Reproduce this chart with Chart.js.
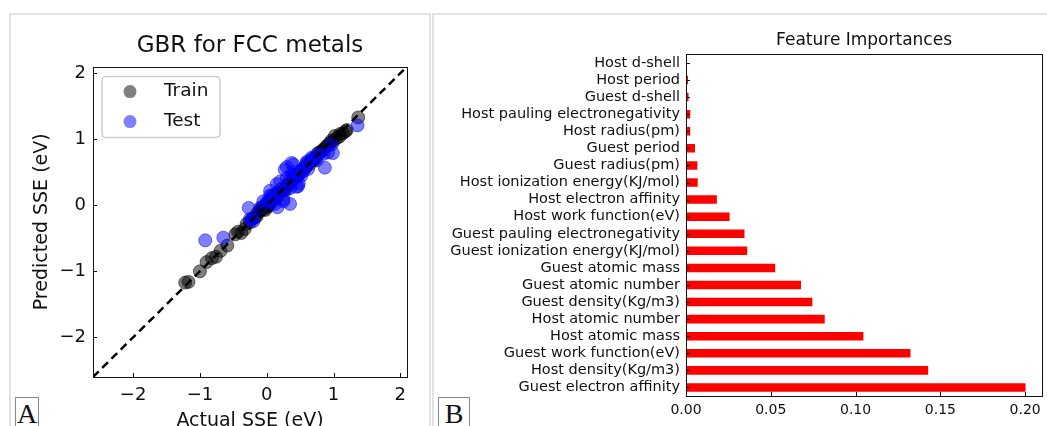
<!DOCTYPE html>
<html>
<head>
<meta charset="utf-8">
<script src="https://cdn.jsdelivr.net/npm/chart.js@4.4.1/dist/chart.umd.min.js"></script>
<style>
  body { margin: 0; background: #fff; width: 1047px; height: 426px; overflow: hidden; position: relative; }
  .panel { position: absolute; border: 2px solid #e2e2e2; box-sizing: border-box; }
  #panelA { left: 9px; top: 13px; width: 422px; height: 430px; }
  #panelB { left: 432px; top: 13px; width: 630px; height: 430px; }
  canvas { position: absolute; }
  #scatterChart { left: 12px; top: 15px; }
  #barChart { left: 436px; top: 15px; }
  .tag { position: absolute; border: 1.5px solid #8a8a8a; font-family: "Liberation Serif", "DejaVu Serif", serif; font-size: 28px; line-height: 32px; text-align: center; color: #111; box-sizing: border-box; background: #fff; }
  #tagA { left: 15px; top: 397px; width: 24px; height: 34px; }
  #tagB { left: 438px; top: 397px; width: 32px; height: 34px; }
</style>
</head>
<body>
<div class="panel" id="panelA"></div>
<div class="panel" id="panelB"></div>
<canvas id="scatterChart" width="416" height="418"></canvas>
<canvas id="barChart" width="611" height="418"></canvas>
<div class="tag" id="tagA">A</div>
<div class="tag" id="tagB">B</div>
<script>
// ---- panel A: actual vs predicted SSE ----
const trainActual = [-1.22, -1.17, -1.0, -0.90, -0.82, -0.76, -0.69, -0.59, -0.47, -0.43, -0.38, -0.33, -0.30, -0.25, -0.22, -0.18, -0.15, -0.14, -0.12, -0.10, -0.08, -0.06, -0.05, -0.02, 0.0, 0.0, 0.02, 0.03, 0.04, 0.05, 0.06, 0.08, 0.10, 0.12, 0.14, 0.15, 0.18, 0.20, 0.22, 0.25, 0.28, 0.30, 0.33, 0.35, 0.38, 0.40, 0.42, 0.45, 0.48, 0.50, 0.53, 0.55, 0.58, 0.60, 0.62, 0.65, 0.68, 0.70, 0.72, 0.75, 0.78, 0.80, 0.83, 0.85, 0.88, 0.90, 0.94, 0.97, 1.00, 1.02, 1.05, 1.09, 1.10, 1.14, 1.18, 1.20, 1.37];
const trainPredicted = [-1.17, -1.16, -1.0, -0.86, -0.80, -0.78, -0.69, -0.61, -0.44, -0.40, -0.42, -0.36, -0.28, -0.26, -0.20, -0.19, -0.17, -0.12, -0.10, -0.08, -0.04, -0.07, -0.02, -0.07, 0.0, -0.03, 0.05, -0.01, 0.02, 0.08, 0.09, 0.05, 0.15, 0.12, 0.10, 0.18, 0.14, 0.20, 0.25, 0.22, 0.25, 0.30, 0.35, 0.33, 0.36, 0.42, 0.45, 0.43, 0.46, 0.50, 0.55, 0.52, 0.57, 0.60, 0.64, 0.63, 0.70, 0.68, 0.70, 0.74, 0.80, 0.80, 0.82, 0.85, 0.87, 0.90, 0.94, 0.98, 0.97, 1.05, 1.02, 1.04, 1.08, 1.09, 1.12, 1.14, 1.33];
const testActual = [-0.92, -0.65, -0.27, -0.25, -0.22, -0.20, -0.10, -0.05, 0.0, 0.05, 0.05, 0.07, 0.10, 0.12, 0.15, 0.16, 0.16, 0.20, 0.25, 0.25, 0.27, 0.28, 0.30, 0.30, 0.35, 0.35, 0.37, 0.37, 0.38, 0.40, 0.40, 0.45, 0.47, 0.48, 0.50, 0.50, 0.52, 0.56, 0.60, 0.60, 0.62, 0.67, 0.70, 0.75, 0.75, 0.87, 0.85, 0.92, 0.97, 0.99, 1.36];
const testPredicted = [-0.53, -0.49, -0.04, -0.21, -0.21, -0.24, -0.04, 0.06, 0.05, 0.15, 0.22, 0.14, 0.10, 0.02, 0.32, 0.19, -0.03, 0.36, 0.09, 0.06, 0.54, 0.22, 0.41, 0.58, 0.26, 0.02, 0.64, 0.44, 0.50, 0.62, 0.46, 0.28, 0.29, 0.33, 0.51, 0.49, 0.45, 0.56, 0.66, 0.64, 0.55, 0.72, 0.71, 0.68, 0.77, 0.57, 0.78, 0.80, 0.92, 0.79, 1.21];
const sseRange = [-2.6, 2.1];
const sseTicks = [-2, -1, 0, 1, 2];

// ---- panel B: feature importances (top to bottom) ----
const featureNames = [
  "Host d-shell", "Host period", "Guest d-shell", "Host pauling electronegativity",
  "Host radius(pm)", "Guest period", "Guest radius(pm)", "Host ionization energy(KJ/mol)",
  "Host electron affinity", "Host work function(eV)", "Guest pauling electronegativity",
  "Guest ionization energy(KJ/mol)", "Guest atomic mass", "Guest atomic number",
  "Guest density(Kg/m3)", "Host atomic number", "Host atomic mass",
  "Guest work function(eV)", "Host density(Kg/m3)", "Guest electron affinity"
];
const featureImportance = [0.0005, 0.0012, 0.0015, 0.0025, 0.0025, 0.0053, 0.0067, 0.0069,
  0.0182, 0.0257, 0.0345, 0.0361, 0.0526, 0.0678, 0.0745, 0.0818, 0.1046, 0.1324, 0.1428, 0.2002];
const importanceTicks = [0, 0.05, 0.1, 0.15, 0.2];

const FONT = '"DejaVu Sans", sans-serif';
const minus = v => (v < 0 ? '\u2212' + Math.abs(v) : String(v));

// box frame + inward ticks, matplotlib style
const framePlugin = {
  id: 'frame',
  afterDraw(chart, args, opts) {
    const { ctx, chartArea: a, scales } = chart;
    const len = opts.tickLen || 4;
    ctx.save();
    ctx.strokeStyle = opts.color || '#000';
    ctx.lineWidth = 1;
    ctx.beginPath();
    scales.x.ticks.forEach((t, i) => {
      const px = Math.round(scales.x.getPixelForTick(i)) + 0.5;
      ctx.moveTo(px, a.bottom);
      ctx.lineTo(px, a.bottom - len);
    });
    scales.y.ticks.forEach((t, i) => {
      const py = Math.round(scales.y.getPixelForTick(i)) + 0.5;
      ctx.moveTo(a.left, py);
      ctx.lineTo(a.left + len, py);
    });
    ctx.stroke();
    ctx.strokeRect(Math.round(a.left) + 0.5, Math.round(a.top) + 0.5,
      Math.round(a.right - a.left), Math.round(a.bottom - a.top));
    ctx.restore();
  }
};

// legend box in the upper left of the plot
const boxLegend = {
  id: 'boxLegend',
  afterDraw(chart) {
    const { ctx, chartArea: a } = chart;
    const items = chart.data.datasets.filter(d => d.inLegend).reverse();
    const x = a.left + 9, y = a.top + 10, w = 118, h = 61;
    ctx.save();
    ctx.fillStyle = 'rgba(255,255,255,0.85)';
    ctx.strokeStyle = '#cccccc';
    ctx.lineWidth = 1.5;
    ctx.beginPath();
    ctx.roundRect(x, y, w, h, 4);
    ctx.fill();
    ctx.stroke();
    items.forEach((d, i) => {
      const cy = y + 15 + i * 30;
      ctx.beginPath();
      ctx.arc(x + 28, cy, 6.5, 0, Math.PI * 2);
      ctx.fillStyle = d.backgroundColor;
      ctx.fill();
      ctx.fillStyle = '#111';
      ctx.font = '18.5px ' + FONT;
      ctx.textBaseline = 'middle';
      ctx.fillText(d.label, x + 62, cy);
    });
    ctx.restore();
  }
};

const toPoints = (xs, ys) => xs.map((v, i) => ({ x: v, y: ys[i] }));

new Chart(document.getElementById('scatterChart'), {
  type: 'scatter',
  data: {
    datasets: [
      {
        type: 'line',
        label: 'ideal',
        data: [{ x: sseRange[0], y: sseRange[0] }, { x: sseRange[1], y: sseRange[1] }],
        borderColor: '#000',
        borderWidth: 2.5,
        borderDash: [8, 5],
        pointRadius: 0,
        showLine: true,
        fill: false
      },
      {
        label: 'Test',
        inLegend: true,
        data: toPoints(testActual, testPredicted),
        backgroundColor: 'rgba(0,0,255,0.5)',
        borderColor: 'rgba(0,0,255,0.5)',
        borderWidth: 1,
        pointRadius: 6.5
      },
      {
        label: 'Train',
        inLegend: true,
        data: toPoints(trainActual, trainPredicted),
        backgroundColor: 'rgba(0,0,0,0.5)',
        borderColor: 'rgba(0,0,0,0.5)',
        borderWidth: 1,
        pointRadius: 6.5
      }
    ]
  },
  options: {
    responsive: false,
    animation: false,
    layout: { padding: { left: 0, right: 21, top: 0, bottom: 0 } },
    plugins: {
      legend: { display: false },
      tooltip: { enabled: false },
      title: {
        display: true,
        fullSize: false,
        text: 'GBR for FCC metals',
        color: '#111',
        font: { family: FONT, size: 23, weight: 'normal' },
        padding: { top: 17, bottom: 7 }
      },
      frame: { color: '#111', tickLen: 4 }
    },
    scales: {
      x: {
        type: 'linear',
        min: sseRange[0],
        max: sseRange[1],
        afterBuildTicks: s => { s.ticks = sseTicks.map(v => ({ value: v })); },
        afterFit: s => { s.height = 56; },
        grid: { display: false, drawTicks: false },
        border: { display: false },
        ticks: { color: '#111', font: { family: FONT, size: 18 }, padding: 8, callback: minus },
        title: {
          display: true,
          text: 'Actual SSE (eV)',
          color: '#111',
          font: { family: FONT, size: 19 },
          padding: { top: 0, bottom: 1 }
        }
      },
      y: {
        type: 'linear',
        min: sseRange[0],
        max: sseRange[1],
        afterBuildTicks: s => { s.ticks = sseTicks.map(v => ({ value: v })); },
        afterFit: s => { s.width = 81; },
        grid: { display: false, drawTicks: false },
        border: { display: false },
        ticks: { color: '#111', font: { family: FONT, size: 18 }, padding: 7, callback: minus },
        title: {
          display: true,
          text: 'Predicted SSE (eV)',
          color: '#111',
          font: { family: FONT, size: 19 },
          padding: { top: 19, bottom: 0 }
        }
      }
    }
  },
  plugins: [framePlugin, boxLegend]
});

new Chart(document.getElementById('barChart'), {
  type: 'bar',
  data: {
    labels: featureNames,
    datasets: [{
      label: 'importance',
      data: featureImportance,
      backgroundColor: '#ff0000',
      borderWidth: 0,
      barPercentage: 0.5,
      categoryPercentage: 1.0
    }]
  },
  options: {
    indexAxis: 'y',
    responsive: false,
    animation: false,
    layout: { padding: { left: 0, right: 3, top: 0, bottom: 0 } },
    plugins: {
      legend: { display: false },
      tooltip: { enabled: false },
      title: {
        display: true,
        fullSize: false,
        text: 'Feature Importances',
        color: '#111',
        font: { family: FONT, size: 17, weight: 'normal' },
        padding: { top: 15, bottom: 4 }
      },
      frame: { color: '#111', tickLen: 4 }
    },
    scales: {
      x: {
        type: 'linear',
        min: 0,
        max: 0.21,
        afterBuildTicks: s => { s.ticks = importanceTicks.map(v => ({ value: v })); },
        afterFit: s => { s.height = 37; },
        grid: { display: false, drawTicks: false },
        border: { display: false },
        ticks: { color: '#111', font: { family: FONT, size: 14 }, padding: 6, callback: v => v.toFixed(2) }
      },
      y: {
        type: 'category',
        afterFit: s => { s.width = 250; },
        grid: { display: false, drawTicks: false },
        border: { display: false },
        ticks: { color: '#111', font: { family: FONT, size: 14.5 }, padding: 6, autoSkip: false }
      }
    }
  },
  plugins: [framePlugin]
});
</script>
</body>
</html>
